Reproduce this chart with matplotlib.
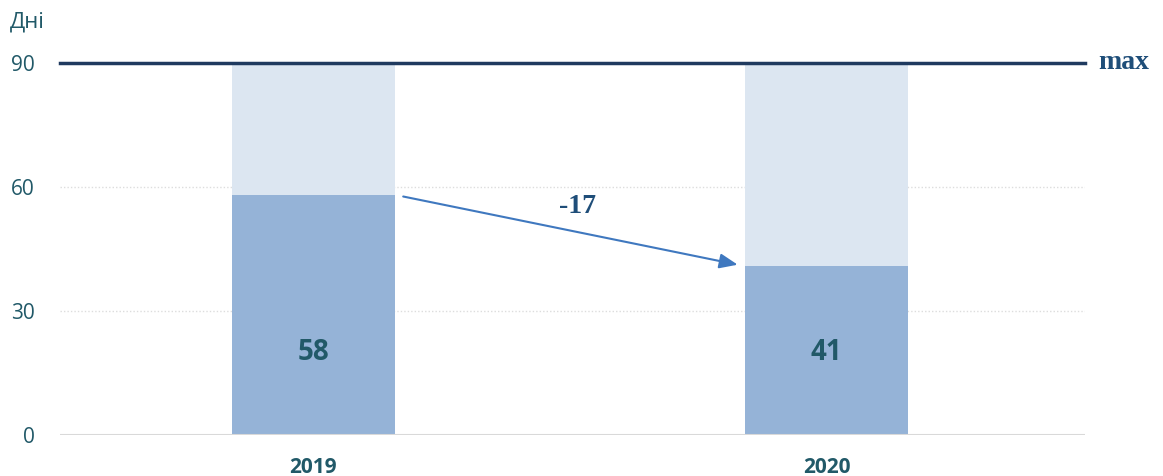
import matplotlib
matplotlib.use("Agg")
import matplotlib.pyplot as plt

years = ["2019", "2020"]
values = [58, 41]
max_value = 90
yticks = [0, 30, 60, 90]
change_label = "-17"
unit_label = "Дні"
max_label = "max"

sans = ["Open Sans", "DejaVu Sans"]
serif = ["Liberation Serif", "DejaVu Serif"]
text_col = "#215968"

W, H = 1163, 476
fig = plt.figure(figsize=(W / 100, H / 100), dpi=100)
ax = fig.add_axes([60 / W, (476 - 435) / H, 1025 / W, (435 - 63) / H])
x = list(range(len(years)))
bw = 0.318
ax.bar(x, [max_value] * len(x), width=bw, color="#DCE6F1", zorder=2)
ax.bar(x, values, width=bw, color="#95B3D7", zorder=3)
for xi, v in zip(x, values):
    ax.text(xi, 20, str(v), ha="center", va="center", fontsize=20,
            fontweight="bold", color=text_col, family=sans, zorder=4)

ax.set_xlim(-0.494, 1.504)
ax.set_ylim(0, max_value)
for t in yticks[1:-1]:
    ax.axhline(t, color="#DDDDDD", lw=1, ls=(0, (1, 1.5)), zorder=1)
ax.axhline(0, color="#D9D9D9", lw=1.5, zorder=5)
ax.axhline(max_value, color="#1F3A5F", lw=2.5, zorder=6, clip_on=False)

ax.annotate("", xy=(0.827, values[1] + 0.2), xytext=(0.175, values[0] - 0.3),
            arrowprops=dict(arrowstyle="-|>,head_length=1.1,head_width=0.45",
                            color="#3F78BF", lw=1.5, shrinkA=0, shrinkB=0), zorder=7)
ax.text(0.514, 55.3, change_label, ha="center", va="center", fontsize=20,
        fontweight="bold", color="#1F4E79", family=serif)

ax.text(1.53, max_value, max_label, ha="left", va="center", fontsize=20,
        fontweight="bold", color="#1F4E79", family=serif, clip_on=False)

for s in ax.spines.values():
    s.set_visible(False)
ax.set_yticks(yticks)
ax.set_yticklabels([str(t) for t in yticks], fontsize=15, color=text_col, family=sans)
ax.tick_params(axis="y", length=0, pad=18)
ax.set_xticks(x)
ax.set_xticklabels(years, fontsize=15, fontweight="bold", color=text_col, family=sans)
ax.tick_params(axis="x", length=0, pad=16)

fig.text(10 / W, 1 - 22 / H, unit_label, ha="left", va="center", fontsize=16,
         color=text_col, family=sans)

fig.savefig("out.png", dpi=100)
